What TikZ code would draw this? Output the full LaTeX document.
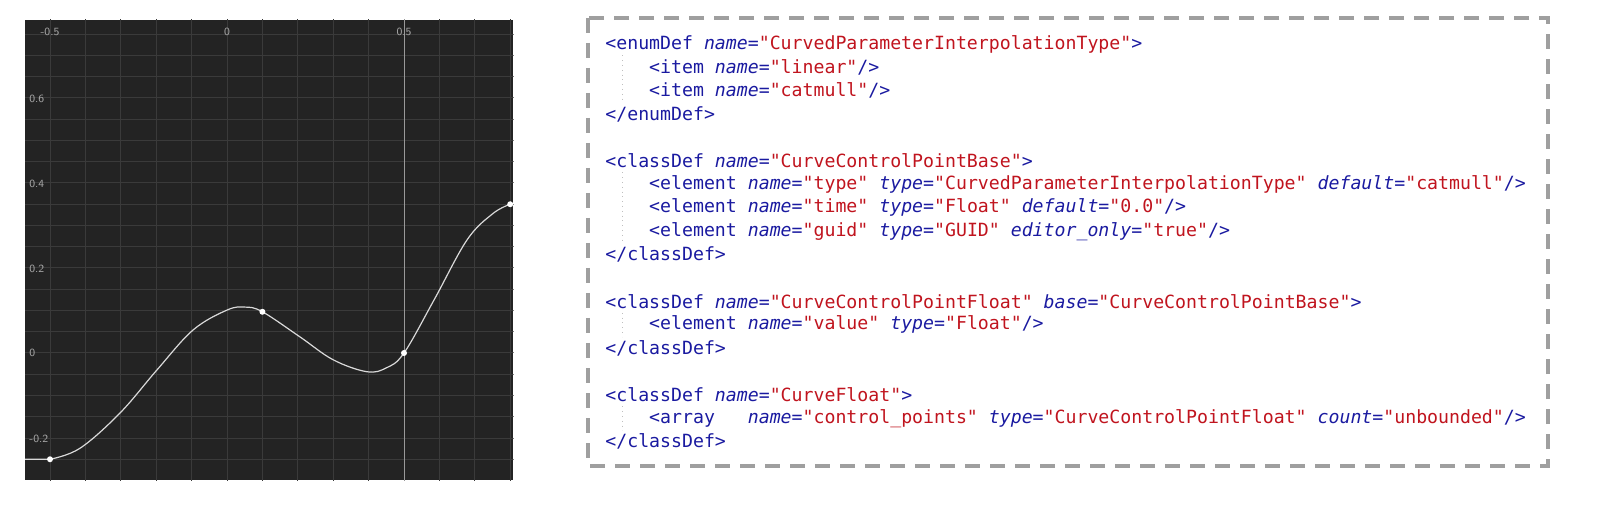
\documentclass[tikz,border=0pt]{standalone}
\usepackage{fontspec}
\setmonofont{DejaVu Sans Mono}
\usetikzlibrary{calc}
\definecolor{panel}{HTML}{232323}
\definecolor{gridc}{HTML}{3A3A3A}
\definecolor{tagc}{HTML}{1A1AA0}
\definecolor{valc}{HTML}{C0141E}
\newcommand{\tg}[1]{\textcolor{tagc}{#1}}
\newcommand{\at}[1]{\textcolor{tagc}{\itshape #1}}
\newcommand{\vl}[1]{\textcolor{valc}{"#1"}}
\tikzset{
  code/.style={anchor=west,inner sep=0pt,font=\ttfamily\fontsize{9.1}{11}\selectfont},
  tick/.style={text=gray!70,inner sep=0pt,font=\sffamily\fontsize{5.5}{6}\selectfont},
  knot/.style={circle,fill=white,inner sep=0pt,minimum size=3pt}
}
\begin{document}
\begin{tikzpicture}[x=0.5pt,y=-0.5pt]
% curve editor panel
\fill[panel] (25,20) rectangle (513,480);
\begin{scope}[shift={(113.5pt,-176.5pt)},x=177pt,y=212.5pt]
  \clip (-0.57,-0.299) rectangle (0.81,0.784);
  \foreach \gx in {-0.5,-0.4,...,0.85}
    \draw[gridc,line width=0.5pt] (\gx,-0.3) -- (\gx,0.8);
  \foreach \gy in {-0.25,-0.2,...,0.8}
    \draw[gridc,line width=0.5pt] (-0.6,\gy) -- (0.9,\gy);
  \draw[gray!80,line width=0.5pt] (0.5,-0.3) -- (0.5,0.8);
  \draw[white!85!black,line width=0.6pt] (-0.6,-0.25) -- (-0.5,-0.25)
    plot[smooth,tension=0.6] coordinates {(-0.5,-0.25) (-0.415,-0.224) (-0.302,-0.141)
      (-0.198,-0.04) (-0.096,0.054) (0,0.101) (0.051,0.108) (0.1,0.097) (0.206,0.038)
      (0.3,-0.016) (0.395,-0.044) (0.45,-0.035) (0.5,0) (0.585,0.125) (0.678,0.266)
      (0.751,0.328) (0.8,0.35)};
  \node[knot] (k1) at (-0.5,-0.25) {};
  \node[knot] (k2) at (0.1,0.097) {};
  \node[knot] (k3) at (0.5,0) {};
  \node[knot] (k4) at (0.8,0.35) {};
\end{scope}
\node[tick] (xa) at (50,32) {-0.5};
\node[tick] (xb) at (227,32) {0};
\node[tick] (xc) at (404,32) {0.5};
\node[tick,anchor=west] (ya) at (29,99) {0.6};
\node[tick,anchor=west] (yb) at (29,184) {0.4};
\node[tick,anchor=west] (yc) at (29,269) {0.2};
\node[tick,anchor=west] (yd) at (29,353) {0};
\node[tick,anchor=west] (ye) at (29,439) {-0.2};
% xml listing
\draw[gray!75,line width=2pt,dash pattern=on 7.5pt off 5pt] (588,18) rectangle (1548,466);
\foreach \a/\b in {1/2,6/8,12/12,16/16}
  \draw[gray!50,dotted] (622,{32+23.4*\a}) -- (622,{56+23.4*\b});
\node[code] (l0) at (605,44) {\tg{<enumDef} \at{name}\tg{=}\vl{CurvedParameterInterpolationType}\tg{>}};
\node[code] (l1) at (605,{44+23.4*1}) {~~~~\tg{<item} \at{name}\tg{=}\vl{linear}\tg{/>}};
\node[code] (l2) at (605,{44+23.4*2}) {~~~~\tg{<item} \at{name}\tg{=}\vl{catmull}\tg{/>}};
\node[code] (l3) at (605,{44+23.4*3}) {\tg{</enumDef>}};
\node[code] (l5) at (605,{44+23.4*5}) {\tg{<classDef} \at{name}\tg{=}\vl{CurveControlPointBase}\tg{>}};
\node[code] (l6) at (605,{44+23.4*6}) {~~~~\tg{<element} \at{name}\tg{=}\vl{type} \at{type}\tg{=}\vl{CurvedParameterInterpolationType} \at{default}\tg{=}\vl{catmull}\tg{/>}};
\node[code] (l7) at (605,{44+23.4*7}) {~~~~\tg{<element} \at{name}\tg{=}\vl{time} \at{type}\tg{=}\vl{Float} \at{default}\tg{=}\vl{0.0}\tg{/>}};
\node[code] (l8) at (605,{44+23.4*8}) {~~~~\tg{<element} \at{name}\tg{=}\vl{guid} \at{type}\tg{=}\vl{GUID} \at{editor\_only}\tg{=}\vl{true}\tg{/>}};
\node[code] (l9) at (605,{44+23.4*9}) {\tg{</classDef>}};
\node[code] (l11) at (605,{44+23.4*11}) {\tg{<classDef} \at{name}\tg{=}\vl{CurveControlPointFloat} \at{base}\tg{=}\vl{CurveControlPointBase}\tg{>}};
\node[code] (l12) at (605,{44+23.4*12}) {~~~~\tg{<element} \at{name}\tg{=}\vl{value} \at{type}\tg{=}\vl{Float}\tg{/>}};
\node[code] (l13) at (605,{44+23.4*13}) {\tg{</classDef>}};
\node[code] (l15) at (605,{44+23.4*15}) {\tg{<classDef} \at{name}\tg{=}\vl{CurveFloat}\tg{>}};
\node[code] (l16) at (605,{44+23.4*16}) {~~~~\tg{<array}~~~\at{name}\tg{=}\vl{control\_points} \at{type}\tg{=}\vl{CurveControlPointFloat} \at{count}\tg{=}\vl{unbounded}\tg{/>}};
\node[code] (l17) at (605,{44+23.4*17}) {\tg{</classDef>}};
\pgfresetboundingbox
\useasboundingbox (0,0) rectangle (1615,507);
\end{tikzpicture}
\end{document}
